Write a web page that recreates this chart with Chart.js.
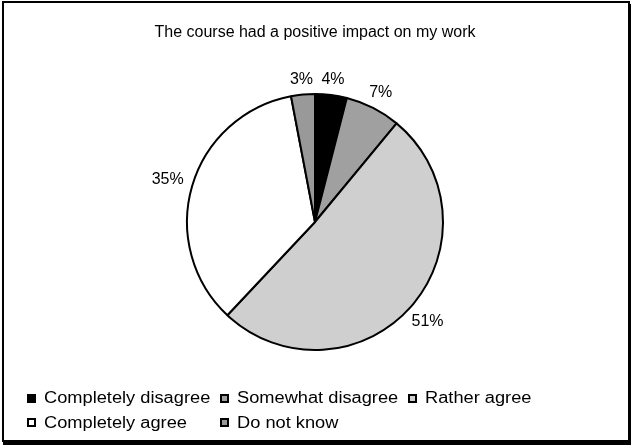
<!DOCTYPE html>
<html>
<head>
<meta charset="utf-8">
<script src="https://cdn.jsdelivr.net/npm/chart.js@4/dist/chart.umd.min.js"></script>
<style>
  html, body { margin: 0; padding: 0; background: #fff; }
  body { width: 631px; height: 445px; position: relative; overflow: hidden;
         font-family: "Liberation Sans", Arial, sans-serif; }
  #frame { position: absolute; left: 2px; top: 1px; width: 624px; height: 437px;
           border: 2px solid #000; box-shadow: 1px 3px 0 #000; }
  #chart { position: absolute; left: 0; top: 0; }
  #legend { position: absolute; left: 27px; top: 386px;
            display: grid; grid-template-columns: 193px 188px auto; grid-auto-rows: 24.5px; }
  .item { display: flex; align-items: center; white-space: nowrap; }
  .box { width: 9px; height: 9px; box-sizing: border-box; border: 2px solid #000; flex: none; }
  .txt { margin-left: 8px; font-size: 16px; color: #000;
         transform: scaleX(1.14); transform-origin: left center; }
</style>
</head>
<body>
<div id="frame"></div>
<canvas id="chart" width="631" height="445"></canvas>
<div id="legend"></div>
<script>
// answers, in drawing order (clockwise from 12 o'clock)
const answers = ["Completely disagree", "Somewhat disagree", "Rather agree", "Completely agree", "Do not know"];
const shares = [4, 7, 51, 35, 3];
const fills = ["#000000", "#a0a0a0", "#cfcfcf", "#ffffff", "#999999"];
const chartTitle = "The course had a positive impact on my work";

// percentage labels just outside the rim
const outsideLabels = {
  id: "outsideLabels",
  afterDatasetsDraw(chart) {
    const ctx = chart.ctx;
    const meta = chart.getDatasetMeta(0);
    ctx.save();
    ctx.font = '16px "Liberation Sans", Arial, sans-serif';
    ctx.fillStyle = "#000";
    ctx.textAlign = "center";
    ctx.textBaseline = "middle";
    meta.data.forEach((arc, i) => {
      const p = arc.getProps(["x", "y", "startAngle", "endAngle", "outerRadius"], true);
      const mid = (p.startAngle + p.endAngle) / 2;
      const text = shares[i] + "%";
      const w = ctx.measureText(text).width;
      const c = Math.cos(mid), s = Math.sin(mid);
      const dist = p.outerRadius + 9 + (w / 2) * c * c + 6 * Math.abs(s);
      ctx.fillText(text, p.x + c * dist, p.y + s * dist);
    });
    ctx.restore();
  }
};

new Chart(document.getElementById("chart"), {
  type: "pie",
  data: {
    labels: answers,
    datasets: [{
      data: shares,
      backgroundColor: fills,
      borderColor: "#000",
      borderWidth: 2
    }]
  },
  options: {
    responsive: false,
    animation: false,
    radius: 128,
    rotation: 0,
    layout: { padding: { left: 0, right: 1, top: 0, bottom: 95 } },
    plugins: {
      legend: { display: false },
      tooltip: { enabled: false },
      title: {
        display: true,
        text: chartTitle,
        color: "#000",
        font: { family: '"Liberation Sans", Arial, sans-serif', size: 16, weight: "normal", lineHeight: 1.2 },
        padding: { top: 23.4, bottom: 51.4 }
      }
    }
  },
  plugins: [outsideLabels]
});

// legend under the pie, three columns
const legend = document.getElementById("legend");
answers.forEach((name, i) => {
  const item = document.createElement("div");
  item.className = "item";
  const box = document.createElement("span");
  box.className = "box";
  box.style.background = fills[i];
  const txt = document.createElement("span");
  txt.className = "txt";
  txt.textContent = name;
  item.appendChild(box);
  item.appendChild(txt);
  legend.appendChild(item);
});
</script>
</body>
</html>
